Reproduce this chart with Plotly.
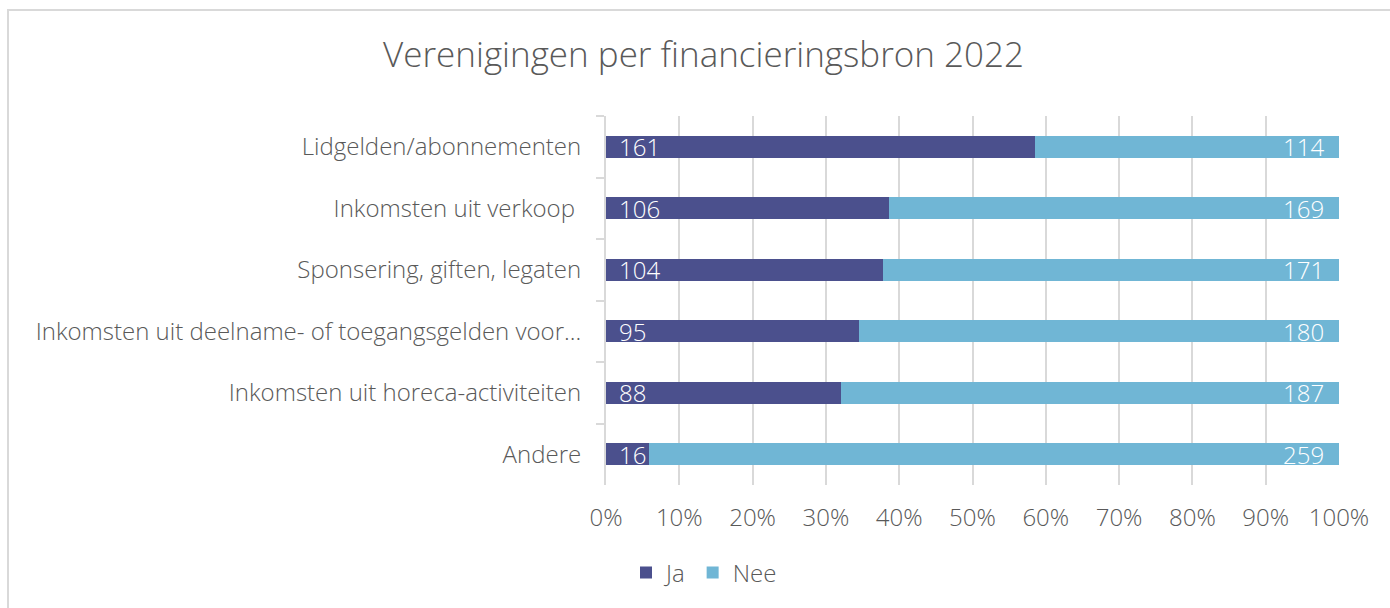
import plotly.graph_objects as go

categories = [
    "Lidgelden/abonnementen",
    "Inkomsten uit verkoop ",
    "Sponsering, giften, legaten",
    "Inkomsten uit deelname- of toegangsgelden voor...",
    "Inkomsten uit horeca-activiteiten",
    "Andere",
]
ja = [161, 106, 104, 95, 88, 16]
nee = [114, 169, 171, 180, 187, 259]
x_ticks = [0, 10, 20, 30, 40, 50, 60, 70, 80, 90, 100]
x_tick_labels = [f"{v}%" for v in x_ticks]

C_JA = "#4B508D"
C_NEE = "#70B6D5"
GRID = "#D9D9D9"
TXT = "#595959"
FONT = "Open Sans"
WT = 300
FS = 24

W, H = 1390, 608
L, R, T, B = 606, 51, 116, 123
pw, ph = W - L - R, H - T - B

fig = go.Figure()
fig.add_trace(go.Bar(y=categories, x=ja, name="Ja", orientation="h",
                     marker=dict(color=C_JA, line=dict(width=0)), hoverinfo="x+y"))
fig.add_trace(go.Bar(y=categories, x=nee, name="Nee", orientation="h",
                     marker=dict(color=C_NEE, line=dict(width=0)), hoverinfo="x+y"))

for c, a, n in zip(categories, ja, nee):
    fig.add_annotation(x=0, y=c, text=str(a), showarrow=False, xanchor="left",
                       xshift=11, font=dict(family=FONT, size=FS, color="white", weight=WT))
    fig.add_annotation(x=100, y=c, text=str(n), showarrow=False, xanchor="right",
                       xshift=-13, font=dict(family=FONT, size=FS, color="white", weight=WT))

# outer border of the chart area
x0 = (8 - L) / pw
y1 = (H - B - 10) / ph
fig.add_shape(type="rect", xref="paper", yref="paper", x0=x0, x1=1.2, y0=-0.6, y1=y1,
              line=dict(color=GRID, width=2), fillcolor="rgba(0,0,0,0)", layer="below")

fig.update_layout(
    width=W, height=H,
    barmode="stack", barnorm="percent", bargap=0.64,
    plot_bgcolor="white", paper_bgcolor="white",
    margin=dict(l=L, r=R, t=T, b=B, autoexpand=False),
    font=dict(family=FONT, color=TXT, size=FS, weight=WT),
    title=dict(text="Verenigingen per financieringsbron 2022", x=(347 + 1060) / 2 / W,
               xanchor="center", y=1 - 55 / H, yanchor="middle",
               font=dict(family=FONT, size=35, color=TXT, weight=WT)),
    xaxis=dict(range=[0, 100], tickvals=x_ticks, ticktext=x_tick_labels,
               showgrid=True, gridcolor=GRID, gridwidth=2, zeroline=False,
               showline=False, ticks="", ticklabelstandoff=16,
               tickfont=dict(family=FONT, size=FS, color=TXT, weight=WT), fixedrange=True),
    yaxis=dict(autorange="reversed", type="category", showgrid=False,
               showline=True, linecolor=GRID, linewidth=2,
               ticks="outside", tickson="boundaries", ticklen=8, tickcolor=GRID, tickwidth=2,
               ticklabelstandoff=18,
               tickfont=dict(family=FONT, size=FS, color=TXT, weight=WT), fixedrange=True),
    legend=dict(orientation="h", x=704 / W, xanchor="center",
                xref="container", y=1 - 573 / H, yref="container", yanchor="middle",
                font=dict(family=FONT, size=FS, color=TXT, weight=WT), itemwidth=30,
                traceorder="normal"),
    showlegend=True,
)

fig.write_html("out.html", config={"displayModeBar": False},
               post_script="document.body.style.margin='0';")
